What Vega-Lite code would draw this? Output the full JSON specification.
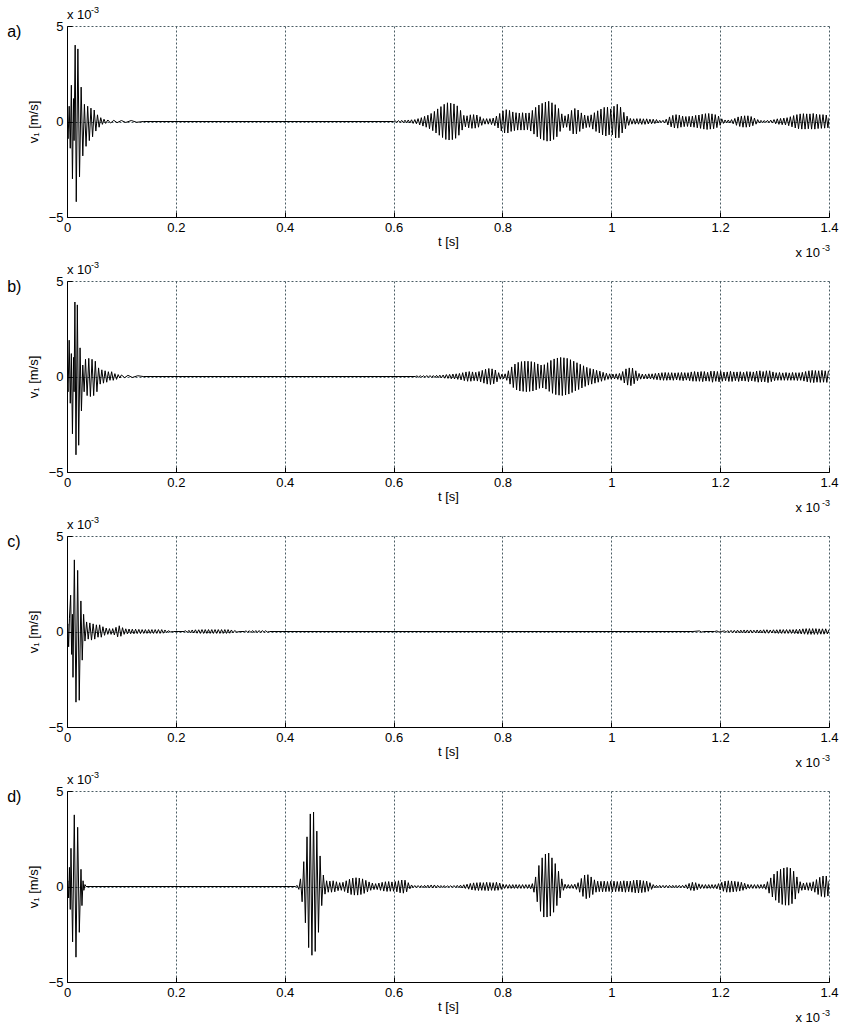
{
"$schema": "https://vega.github.io/schema/vega-lite/v6.json",
"padding": {"left": 7, "top": 6, "right": 6, "bottom": 4},
"bounds": "flush",
"spacing": 64,
"datasets": {
"a": [
{"t":0,"v":0},{"t":2,"v":-0.9},{"t":4,"v":0.8},{"t":6,"v":-1.4},{"t":8,"v":1.9},{"t":10,"v":-3.0},{"t":12,"v":1.2},{"t":13,"v":-1.0},{"t":15,"v":4.0},{"t":17,"v":-4.2},{"t":20,"v":3.8},{"t":23,"v":-2.9},{"t":26,"v":1.8},{"t":29,"v":-1.8},{"t":32,"v":0.9},{"t":35,"v":-1.3},{"t":38,"v":0.8},{"t":41,"v":-1.0},{"t":44,"v":0.7},{"t":47,"v":-0.8},{"t":50,"v":0.6},{"t":53,"v":-0.5},{"t":56,"v":0.35},{"t":59,"v":-0.3},{"t":62,"v":0.2},{"t":65,"v":-0.15},{"t":68,"v":0.12},{"t":71,"v":-0.1},{"t":75,"v":0.08},{"t":80,"v":-0.08},{"t":86,"v":0.06},{"t":92,"v":-0.06},{"t":100,"v":0.05},{"t":108,"v":-0.05},{"t":118,"v":0.05},{"t":128,"v":-0.04},{"t":140,"v":0},{"t":600,"v":0},
{"t":603,"v":0.03},{"t":606,"v":-0.04},{"t":609,"v":0.05},{"t":612,"v":-0.05},{"t":615,"v":0.06},{"t":618,"v":-0.06},{"t":621,"v":0.07},{"t":624,"v":-0.07},{"t":627,"v":0.08},{"t":630,"v":-0.08},{"t":633,"v":0.09},{"t":636,"v":-0.1},{"t":639,"v":0.1},{"t":642,"v":-0.12},{"t":645,"v":0.15},{"t":648,"v":-0.18},{"t":651,"v":0.2},{"t":654,"v":-0.24},{"t":657,"v":0.27},{"t":660,"v":-0.3},{"t":663,"v":0.33},{"t":666,"v":-0.38},{"t":669,"v":0.42},{"t":672,"v":-0.48},{"t":675,"v":0.53},{"t":678,"v":-0.6},{"t":681,"v":0.66},{"t":684,"v":-0.72},{"t":687,"v":0.78},{"t":690,"v":-0.84},{"t":693,"v":0.9},{"t":696,"v":-0.94},{"t":699,"v":0.98},{"t":702,"v":-0.97},{"t":705,"v":0.96},{"t":708,"v":-0.95},{"t":711,"v":0.92},{"t":714,"v":-0.88},{"t":717,"v":0.82},{"t":720,"v":-0.72},{"t":723,"v":0.58},{"t":726,"v":-0.45},{"t":729,"v":0.32},{"t":732,"v":-0.28},{"t":735,"v":0.3},{"t":738,"v":-0.33},{"t":741,"v":0.35},{"t":744,"v":-0.36},{"t":747,"v":0.36},{"t":750,"v":-0.35},{"t":753,"v":0.34},{"t":756,"v":-0.3},{"t":759,"v":0.25},{"t":762,"v":-0.2},{"t":765,"v":0.15},{"t":768,"v":-0.14},{"t":771,"v":0.15},{"t":774,"v":-0.14},{"t":777,"v":0.15},{"t":780,"v":-0.16},{"t":783,"v":0.18},{"t":786,"v":-0.22},{"t":789,"v":0.28},{"t":792,"v":-0.34},{"t":795,"v":0.42},{"t":798,"v":-0.5},{"t":801,"v":0.56},{"t":804,"v":-0.6},{"t":807,"v":0.62},{"t":810,"v":-0.6},{"t":813,"v":0.58},{"t":816,"v":-0.52},{"t":819,"v":0.5},{"t":822,"v":-0.48},{"t":825,"v":0.46},{"t":828,"v":-0.45},{"t":831,"v":0.44},{"t":834,"v":-0.45},{"t":837,"v":0.46},{"t":840,"v":-0.45},{"t":843,"v":0.44},{"t":846,"v":-0.43},{"t":849,"v":0.45},{"t":852,"v":-0.5},{"t":855,"v":0.58},{"t":858,"v":-0.66},{"t":861,"v":0.74},{"t":864,"v":-0.8},{"t":867,"v":0.86},{"t":870,"v":-0.9},{"t":873,"v":0.95},{"t":876,"v":-0.98},{"t":879,"v":1.02},{"t":882,"v":-1.03},{"t":885,"v":1.06},{"t":888,"v":-1.02},{"t":891,"v":0.98},{"t":894,"v":-0.94},{"t":897,"v":0.88},{"t":900,"v":-0.8},{"t":903,"v":0.68},{"t":906,"v":-0.52},{"t":909,"v":0.4},{"t":912,"v":-0.32},{"t":915,"v":0.3},{"t":918,"v":-0.3},{"t":921,"v":0.38},{"t":924,"v":-0.48},{"t":927,"v":0.58},{"t":930,"v":-0.65},{"t":933,"v":0.68},{"t":936,"v":-0.65},{"t":939,"v":0.6},{"t":942,"v":-0.52},{"t":945,"v":0.45},{"t":948,"v":-0.38},{"t":951,"v":0.34},{"t":954,"v":-0.32},{"t":957,"v":0.3},{"t":960,"v":-0.3},{"t":963,"v":0.35},{"t":966,"v":-0.4},{"t":969,"v":0.46},{"t":972,"v":-0.52},{"t":975,"v":0.56},{"t":978,"v":-0.6},{"t":981,"v":0.65},{"t":984,"v":-0.7},{"t":987,"v":0.74},{"t":990,"v":-0.76},{"t":993,"v":0.75},{"t":996,"v":-0.7},{"t":999,"v":0.66},{"t":1002,"v":-0.7},{"t":1005,"v":0.8},{"t":1008,"v":-0.86},{"t":1011,"v":0.9},{"t":1014,"v":-0.85},{"t":1017,"v":0.75},{"t":1020,"v":-0.6},{"t":1023,"v":0.48},{"t":1026,"v":-0.38},{"t":1029,"v":0.28},{"t":1032,"v":-0.2},{"t":1035,"v":0.16},{"t":1038,"v":-0.14},{"t":1041,"v":0.14},{"t":1044,"v":-0.14},{"t":1047,"v":0.15},{"t":1050,"v":-0.14},{"t":1053,"v":0.15},{"t":1056,"v":-0.15},{"t":1059,"v":0.14},{"t":1062,"v":-0.15},{"t":1065,"v":0.14},{"t":1068,"v":-0.13},{"t":1071,"v":0.12},{"t":1074,"v":-0.12},{"t":1077,"v":0.12},{"t":1080,"v":-0.11},{"t":1083,"v":0.1},{"t":1086,"v":-0.08},{"t":1089,"v":0.06},{"t":1092,"v":-0.05},{"t":1095,"v":0.06},{"t":1098,"v":-0.08},{"t":1101,"v":0.12},{"t":1104,"v":-0.18},{"t":1107,"v":0.24},{"t":1110,"v":-0.28},{"t":1113,"v":0.32},{"t":1116,"v":-0.34},{"t":1119,"v":0.36},{"t":1122,"v":-0.35},{"t":1125,"v":0.33},{"t":1128,"v":-0.3},{"t":1131,"v":0.28},{"t":1134,"v":-0.27},{"t":1137,"v":0.26},{"t":1140,"v":-0.26},{"t":1143,"v":0.27},{"t":1146,"v":-0.28},{"t":1149,"v":0.28},{"t":1152,"v":-0.3},{"t":1155,"v":0.32},{"t":1158,"v":-0.33},{"t":1161,"v":0.34},{"t":1164,"v":-0.36},{"t":1167,"v":0.38},{"t":1170,"v":-0.4},{"t":1173,"v":0.41},{"t":1176,"v":-0.42},{"t":1179,"v":0.42},{"t":1182,"v":-0.4},{"t":1185,"v":0.4},{"t":1188,"v":-0.38},{"t":1191,"v":0.36},{"t":1194,"v":-0.32},{"t":1197,"v":0.28},{"t":1200,"v":-0.2},{"t":1203,"v":0.14},{"t":1206,"v":-0.1},{"t":1209,"v":0.08},{"t":1212,"v":-0.07},{"t":1215,"v":0.08},{"t":1218,"v":-0.08},{"t":1221,"v":0.1},{"t":1224,"v":-0.12},{"t":1227,"v":0.16},{"t":1230,"v":-0.2},{"t":1233,"v":0.24},{"t":1236,"v":-0.26},{"t":1239,"v":0.28},{"t":1242,"v":-0.3},{"t":1245,"v":0.3},{"t":1248,"v":-0.3},{"t":1251,"v":0.3},{"t":1254,"v":-0.28},{"t":1257,"v":0.26},{"t":1260,"v":-0.22},{"t":1263,"v":0.18},{"t":1266,"v":-0.14},{"t":1269,"v":0.1},{"t":1272,"v":-0.08},{"t":1275,"v":0.06},{"t":1278,"v":-0.06},{"t":1281,"v":0.05},{"t":1284,"v":-0.05},{"t":1287,"v":0.06},{"t":1290,"v":-0.06},{"t":1293,"v":0.07},{"t":1296,"v":-0.08},{"t":1299,"v":0.1},{"t":1302,"v":-0.12},{"t":1305,"v":0.14},{"t":1308,"v":-0.15},{"t":1311,"v":0.16},{"t":1314,"v":-0.17},{"t":1317,"v":0.18},{"t":1320,"v":-0.18},{"t":1323,"v":0.2},{"t":1326,"v":-0.22},{"t":1329,"v":0.25},{"t":1332,"v":-0.28},{"t":1335,"v":0.31},{"t":1338,"v":-0.34},{"t":1341,"v":0.36},{"t":1344,"v":-0.38},{"t":1347,"v":0.4},{"t":1350,"v":-0.4},{"t":1353,"v":0.41},{"t":1356,"v":-0.4},{"t":1359,"v":0.4},{"t":1362,"v":-0.38},{"t":1365,"v":0.4},{"t":1368,"v":-0.4},{"t":1371,"v":0.42},{"t":1374,"v":-0.4},{"t":1377,"v":0.38},{"t":1380,"v":-0.37},{"t":1383,"v":0.36},{"t":1386,"v":-0.36},{"t":1389,"v":0.36},{"t":1392,"v":-0.35},{"t":1395,"v":0.34},{"t":1398,"v":-0.33},{"t":1400,"v":0.2}
],
"b": [
{"t":0,"v":0},{"t":2,"v":-0.8},{"t":4,"v":1.9},{"t":6,"v":-1.4},{"t":8,"v":1.2},{"t":10,"v":-3.0},{"t":12,"v":1.0},{"t":13,"v":-0.8},{"t":14.5,"v":3.9},{"t":16.5,"v":-4.1},{"t":19,"v":3.75},{"t":21.5,"v":-3.6},{"t":24,"v":1.5},{"t":26.5,"v":-1.8},{"t":29,"v":0.6},{"t":31.5,"v":-0.8},{"t":34,"v":0.9},{"t":37,"v":-1.0},{"t":40,"v":0.95},{"t":43,"v":-1.05},{"t":46,"v":0.9},{"t":49,"v":-1.0},{"t":52,"v":0.8},{"t":55,"v":-0.8},{"t":58,"v":0.45},{"t":61,"v":-0.4},{"t":64,"v":0.35},{"t":67,"v":-0.35},{"t":70,"v":0.3},{"t":73,"v":-0.3},{"t":76,"v":0.25},{"t":79,"v":-0.2},{"t":82,"v":0.25},{"t":85,"v":-0.2},{"t":88,"v":0.15},{"t":91,"v":-0.15},{"t":94,"v":0.1},{"t":97,"v":-0.08},{"t":100,"v":0.08},{"t":106,"v":-0.06},{"t":112,"v":0.06},{"t":120,"v":-0.05},{"t":130,"v":0.04},{"t":140,"v":0},{"t":640,"v":0},
{"t":643,"v":0.03},{"t":646,"v":-0.03},{"t":649,"v":0.04},{"t":652,"v":-0.03},{"t":655,"v":0.04},{"t":658,"v":-0.04},{"t":661,"v":0.05},{"t":664,"v":-0.04},{"t":667,"v":0.05},{"t":670,"v":-0.05},{"t":673,"v":0.05},{"t":676,"v":-0.05},{"t":679,"v":0.06},{"t":682,"v":-0.06},{"t":685,"v":0.07},{"t":688,"v":-0.07},{"t":691,"v":0.08},{"t":694,"v":-0.09},{"t":697,"v":0.1},{"t":700,"v":-0.1},{"t":703,"v":0.11},{"t":706,"v":-0.12},{"t":709,"v":0.13},{"t":712,"v":-0.13},{"t":715,"v":0.14},{"t":718,"v":-0.15},{"t":721,"v":0.16},{"t":724,"v":-0.18},{"t":727,"v":0.2},{"t":730,"v":-0.22},{"t":733,"v":0.24},{"t":736,"v":-0.25},{"t":739,"v":0.26},{"t":742,"v":-0.25},{"t":745,"v":0.24},{"t":748,"v":-0.22},{"t":751,"v":0.22},{"t":754,"v":-0.24},{"t":757,"v":0.26},{"t":760,"v":-0.28},{"t":763,"v":0.32},{"t":766,"v":-0.35},{"t":769,"v":0.38},{"t":772,"v":-0.4},{"t":775,"v":0.42},{"t":778,"v":-0.42},{"t":781,"v":0.4},{"t":784,"v":-0.38},{"t":787,"v":0.34},{"t":790,"v":-0.28},{"t":793,"v":0.2},{"t":796,"v":-0.14},{"t":799,"v":0.12},{"t":802,"v":-0.12},{"t":805,"v":0.14},{"t":808,"v":-0.2},{"t":811,"v":0.3},{"t":814,"v":-0.4},{"t":817,"v":0.5},{"t":820,"v":-0.58},{"t":823,"v":0.65},{"t":826,"v":-0.7},{"t":829,"v":0.74},{"t":832,"v":-0.76},{"t":835,"v":0.78},{"t":838,"v":-0.78},{"t":841,"v":0.8},{"t":844,"v":-0.8},{"t":847,"v":0.8},{"t":850,"v":-0.78},{"t":853,"v":0.78},{"t":856,"v":-0.76},{"t":859,"v":0.74},{"t":862,"v":-0.7},{"t":865,"v":0.66},{"t":868,"v":-0.62},{"t":871,"v":0.6},{"t":874,"v":-0.6},{"t":877,"v":0.62},{"t":880,"v":-0.66},{"t":883,"v":0.72},{"t":886,"v":-0.78},{"t":889,"v":0.84},{"t":892,"v":-0.88},{"t":895,"v":0.92},{"t":898,"v":-0.95},{"t":901,"v":0.97},{"t":904,"v":-0.98},{"t":907,"v":1.0},{"t":910,"v":-1.0},{"t":913,"v":0.98},{"t":916,"v":-0.97},{"t":919,"v":0.95},{"t":922,"v":-0.92},{"t":925,"v":0.88},{"t":928,"v":-0.84},{"t":931,"v":0.8},{"t":934,"v":-0.75},{"t":937,"v":0.72},{"t":940,"v":-0.68},{"t":943,"v":0.64},{"t":946,"v":-0.6},{"t":949,"v":0.56},{"t":952,"v":-0.52},{"t":955,"v":0.48},{"t":958,"v":-0.45},{"t":961,"v":0.42},{"t":964,"v":-0.4},{"t":967,"v":0.38},{"t":970,"v":-0.35},{"t":973,"v":0.32},{"t":976,"v":-0.3},{"t":979,"v":0.28},{"t":982,"v":-0.25},{"t":985,"v":0.22},{"t":988,"v":-0.2},{"t":991,"v":0.17},{"t":994,"v":-0.15},{"t":997,"v":0.14},{"t":1000,"v":-0.14},{"t":1003,"v":0.13},{"t":1006,"v":-0.13},{"t":1009,"v":0.14},{"t":1012,"v":-0.15},{"t":1015,"v":0.16},{"t":1018,"v":-0.2},{"t":1021,"v":0.26},{"t":1024,"v":-0.34},{"t":1027,"v":0.4},{"t":1030,"v":-0.45},{"t":1033,"v":0.45},{"t":1036,"v":-0.48},{"t":1039,"v":0.44},{"t":1042,"v":-0.38},{"t":1045,"v":0.3},{"t":1048,"v":-0.22},{"t":1051,"v":0.16},{"t":1054,"v":-0.14},{"t":1057,"v":0.13},{"t":1060,"v":-0.13},{"t":1063,"v":0.12},{"t":1066,"v":-0.13},{"t":1069,"v":0.14},{"t":1072,"v":-0.13},{"t":1075,"v":0.14},{"t":1078,"v":-0.15},{"t":1081,"v":0.16},{"t":1084,"v":-0.17},{"t":1087,"v":0.18},{"t":1090,"v":-0.19},{"t":1093,"v":0.2},{"t":1096,"v":-0.2},{"t":1099,"v":0.21},{"t":1102,"v":-0.2},{"t":1105,"v":0.2},{"t":1108,"v":-0.19},{"t":1111,"v":0.2},{"t":1114,"v":-0.2},{"t":1117,"v":0.19},{"t":1120,"v":-0.18},{"t":1123,"v":0.2},{"t":1126,"v":-0.2},{"t":1129,"v":0.21},{"t":1132,"v":-0.22},{"t":1135,"v":0.2},{"t":1138,"v":-0.19},{"t":1141,"v":0.2},{"t":1144,"v":-0.22},{"t":1147,"v":0.24},{"t":1150,"v":-0.25},{"t":1153,"v":0.26},{"t":1156,"v":-0.25},{"t":1159,"v":0.24},{"t":1162,"v":-0.25},{"t":1165,"v":0.26},{"t":1168,"v":-0.27},{"t":1171,"v":0.26},{"t":1174,"v":-0.24},{"t":1177,"v":0.22},{"t":1180,"v":-0.25},{"t":1183,"v":0.28},{"t":1186,"v":-0.3},{"t":1189,"v":0.28},{"t":1192,"v":-0.25},{"t":1195,"v":0.26},{"t":1198,"v":-0.28},{"t":1201,"v":0.27},{"t":1204,"v":-0.25},{"t":1207,"v":0.23},{"t":1210,"v":-0.22},{"t":1213,"v":0.24},{"t":1216,"v":-0.26},{"t":1219,"v":0.27},{"t":1222,"v":-0.26},{"t":1225,"v":0.24},{"t":1228,"v":-0.22},{"t":1231,"v":0.24},{"t":1234,"v":-0.26},{"t":1237,"v":0.25},{"t":1240,"v":-0.23},{"t":1243,"v":0.22},{"t":1246,"v":-0.24},{"t":1249,"v":0.26},{"t":1252,"v":-0.27},{"t":1255,"v":0.25},{"t":1258,"v":-0.23},{"t":1261,"v":0.24},{"t":1264,"v":-0.26},{"t":1267,"v":0.28},{"t":1270,"v":-0.3},{"t":1273,"v":0.3},{"t":1276,"v":-0.28},{"t":1279,"v":0.26},{"t":1282,"v":-0.28},{"t":1285,"v":0.3},{"t":1288,"v":-0.32},{"t":1291,"v":0.3},{"t":1294,"v":-0.27},{"t":1297,"v":0.24},{"t":1300,"v":-0.22},{"t":1303,"v":0.2},{"t":1306,"v":-0.2},{"t":1309,"v":0.21},{"t":1312,"v":-0.2},{"t":1315,"v":0.19},{"t":1318,"v":-0.2},{"t":1321,"v":0.21},{"t":1324,"v":-0.2},{"t":1327,"v":0.19},{"t":1330,"v":-0.2},{"t":1333,"v":0.21},{"t":1336,"v":-0.2},{"t":1339,"v":0.2},{"t":1342,"v":-0.21},{"t":1345,"v":0.2},{"t":1348,"v":-0.2},{"t":1351,"v":0.22},{"t":1354,"v":-0.24},{"t":1357,"v":0.26},{"t":1360,"v":-0.28},{"t":1363,"v":0.3},{"t":1366,"v":-0.31},{"t":1369,"v":0.32},{"t":1372,"v":-0.32},{"t":1375,"v":0.31},{"t":1378,"v":-0.3},{"t":1381,"v":0.3},{"t":1384,"v":-0.31},{"t":1387,"v":0.32},{"t":1390,"v":-0.3},{"t":1393,"v":0.3},{"t":1396,"v":-0.31},{"t":1399,"v":0.3}
],
"c": [
{"t":0,"v":0},{"t":1.5,"v":0.4},{"t":3,"v":-0.8},{"t":4.5,"v":0.7},{"t":6.7,"v":1.9},{"t":8.5,"v":-1.2},{"t":10,"v":0.9},{"t":11,"v":-2.4},{"t":13.5,"v":3.75},{"t":16.5,"v":-3.7},{"t":19.6,"v":3.2},{"t":22.5,"v":-3.6},{"t":25.5,"v":1.6},{"t":28,"v":-1.5},{"t":30.5,"v":0.9},{"t":33,"v":-0.5},{"t":36,"v":0.5},{"t":39,"v":-0.4},{"t":42,"v":0.45},{"t":45,"v":-0.45},{"t":48,"v":0.4},{"t":51,"v":-0.4},{"t":54,"v":0.35},{"t":57,"v":-0.3},{"t":60,"v":0.35},{"t":63,"v":-0.3},{"t":66,"v":0.25},{"t":69,"v":-0.2},{"t":72,"v":0.18},{"t":75,"v":-0.15},{"t":78,"v":0.15},{"t":81,"v":-0.15},{"t":84,"v":0.15},{"t":87,"v":-0.18},{"t":90,"v":0.22},{"t":93,"v":-0.28},{"t":96,"v":0.3},{"t":99,"v":-0.25},{"t":102,"v":0.2},{"t":105,"v":-0.15},{"t":108,"v":0.14},{"t":111,"v":-0.13},{"t":114,"v":0.13},{"t":117,"v":-0.12},{"t":120,"v":0.12},{"t":123,"v":-0.12},{"t":126,"v":0.12},{"t":129,"v":-0.11},{"t":132,"v":0.11},{"t":135,"v":-0.11},{"t":138,"v":0.1},{"t":141,"v":-0.1},{"t":144,"v":0.1},{"t":147,"v":-0.1},{"t":150,"v":0.1},{"t":153,"v":-0.1},{"t":156,"v":0.1},{"t":159,"v":-0.1},{"t":162,"v":0.1},{"t":165,"v":-0.1},{"t":168,"v":0.1},{"t":171,"v":-0.1},{"t":174,"v":0.1},{"t":177,"v":-0.09},{"t":180,"v":0.08},{"t":183,"v":-0.06},{"t":186,"v":0.04},{"t":190,"v":-0.02},{"t":196,"v":0},{"t":215,"v":0},{"t":218,"v":0.04},{"t":221,"v":-0.05},{"t":224,"v":0.06},{"t":227,"v":-0.07},{"t":230,"v":0.08},{"t":233,"v":-0.08},{"t":236,"v":0.09},{"t":239,"v":-0.09},{"t":242,"v":0.09},{"t":245,"v":-0.1},{"t":248,"v":0.1},{"t":251,"v":-0.1},{"t":254,"v":0.1},{"t":257,"v":-0.1},{"t":260,"v":0.1},{"t":263,"v":-0.1},{"t":266,"v":0.1},{"t":269,"v":-0.1},{"t":272,"v":0.1},{"t":275,"v":-0.1},{"t":278,"v":0.1},{"t":281,"v":-0.1},{"t":284,"v":0.1},{"t":287,"v":-0.1},{"t":290,"v":0.1},{"t":293,"v":-0.1},{"t":296,"v":0.1},{"t":299,"v":-0.09},{"t":302,"v":0.08},{"t":305,"v":-0.07},{"t":308,"v":0.05},{"t":312,"v":-0.03},{"t":318,"v":0},{"t":326,"v":0},{"t":329,"v":0.03},{"t":332,"v":-0.04},{"t":335,"v":0.04},{"t":338,"v":-0.05},{"t":341,"v":0.05},{"t":344,"v":-0.05},{"t":347,"v":0.05},{"t":350,"v":-0.05},{"t":353,"v":0.05},{"t":356,"v":-0.05},{"t":359,"v":0.05},{"t":362,"v":-0.04},{"t":365,"v":0.04},{"t":368,"v":-0.03},{"t":372,"v":0},{"t":1150,"v":0},{"t":1162,"v":0.03},{"t":1166,"v":-0.03},{"t":1170,"v":0},{"t":1190,"v":0},{"t":1194,"v":0.03},{"t":1198,"v":-0.03},{"t":1202,"v":0},{"t":1208,"v":0.03},{"t":1211,"v":-0.04},{"t":1214,"v":0.05},{"t":1217,"v":-0.05},{"t":1220,"v":0.06},{"t":1223,"v":-0.06},{"t":1226,"v":0.06},{"t":1229,"v":-0.07},{"t":1232,"v":0.07},{"t":1235,"v":-0.07},{"t":1238,"v":0.07},{"t":1241,"v":-0.07},{"t":1244,"v":0.08},{"t":1247,"v":-0.08},{"t":1250,"v":0.08},{"t":1253,"v":-0.08},{"t":1256,"v":0.08},{"t":1259,"v":-0.08},{"t":1262,"v":0.07},{"t":1265,"v":-0.07},{"t":1268,"v":0.08},{"t":1271,"v":-0.08},{"t":1274,"v":0.08},{"t":1277,"v":-0.08},{"t":1280,"v":0.09},{"t":1283,"v":-0.09},{"t":1286,"v":0.09},{"t":1289,"v":-0.09},{"t":1292,"v":0.08},{"t":1295,"v":-0.08},{"t":1298,"v":0.09},{"t":1301,"v":-0.09},{"t":1304,"v":0.09},{"t":1307,"v":-0.1},{"t":1310,"v":0.1},{"t":1313,"v":-0.1},{"t":1316,"v":0.1},{"t":1319,"v":-0.1},{"t":1322,"v":0.1},{"t":1325,"v":-0.1},{"t":1328,"v":0.1},{"t":1331,"v":-0.1},{"t":1334,"v":0.1},{"t":1337,"v":-0.11},{"t":1340,"v":0.11},{"t":1343,"v":-0.12},{"t":1346,"v":0.12},{"t":1349,"v":-0.13},{"t":1352,"v":0.14},{"t":1355,"v":-0.14},{"t":1358,"v":0.15},{"t":1361,"v":-0.15},{"t":1364,"v":0.15},{"t":1367,"v":-0.15},{"t":1370,"v":0.15},{"t":1373,"v":-0.15},{"t":1376,"v":0.15},{"t":1379,"v":-0.15},{"t":1382,"v":0.14},{"t":1385,"v":-0.14},{"t":1388,"v":0.14},{"t":1391,"v":-0.14},{"t":1394,"v":0.14},{"t":1397,"v":-0.13},{"t":1400,"v":0.1}
],
"d": [
{"t":0,"v":0},{"t":1.5,"v":0.3},{"t":3,"v":-0.6},{"t":4.5,"v":1.0},{"t":6,"v":-1.2},{"t":7.3,"v":2.0},{"t":10.3,"v":-2.9},{"t":13.4,"v":3.75},{"t":16.5,"v":-3.7},{"t":19.6,"v":3.1},{"t":22.6,"v":-2.4},{"t":25.7,"v":0.9},{"t":27.5,"v":-1.0},{"t":29.5,"v":0.3},{"t":31,"v":-0.2},{"t":33,"v":0.1},{"t":35,"v":0},{"t":420,"v":0},
{"t":423,"v":0.05},{"t":426,"v":-0.15},{"t":429,"v":0.4},{"t":432,"v":-0.8},{"t":435,"v":1.3},{"t":438,"v":-1.9},{"t":441,"v":2.6},{"t":444,"v":-3.2},{"t":447,"v":3.8},{"t":450,"v":-3.6},{"t":453,"v":3.9},{"t":456,"v":-3.4},{"t":459,"v":2.9},{"t":462,"v":-2.4},{"t":465,"v":1.6},{"t":468,"v":-1.0},{"t":471,"v":0.6},{"t":474,"v":-0.4},{"t":477,"v":0.3},{"t":480,"v":-0.3},{"t":483,"v":0.28},{"t":486,"v":-0.3},{"t":489,"v":0.3},{"t":492,"v":-0.28},{"t":495,"v":0.25},{"t":498,"v":-0.22},{"t":501,"v":0.2},{"t":504,"v":-0.2},{"t":507,"v":0.22},{"t":510,"v":-0.26},{"t":513,"v":0.3},{"t":516,"v":-0.34},{"t":519,"v":0.38},{"t":522,"v":-0.42},{"t":525,"v":0.44},{"t":528,"v":-0.45},{"t":531,"v":0.46},{"t":534,"v":-0.45},{"t":537,"v":0.44},{"t":540,"v":-0.42},{"t":543,"v":0.4},{"t":546,"v":-0.36},{"t":549,"v":0.32},{"t":552,"v":-0.28},{"t":555,"v":0.24},{"t":558,"v":-0.2},{"t":561,"v":0.18},{"t":564,"v":-0.16},{"t":567,"v":0.15},{"t":570,"v":-0.16},{"t":573,"v":0.18},{"t":576,"v":-0.2},{"t":579,"v":0.22},{"t":582,"v":-0.24},{"t":585,"v":0.25},{"t":588,"v":-0.26},{"t":591,"v":0.26},{"t":594,"v":-0.25},{"t":597,"v":0.24},{"t":600,"v":-0.25},{"t":603,"v":0.26},{"t":606,"v":-0.28},{"t":609,"v":0.3},{"t":612,"v":-0.33},{"t":615,"v":0.34},{"t":618,"v":-0.35},{"t":621,"v":0.33},{"t":624,"v":-0.28},{"t":627,"v":0.2},{"t":630,"v":-0.12},{"t":633,"v":0.08},{"t":636,"v":-0.06},{"t":639,"v":0.05},{"t":642,"v":-0.05},{"t":645,"v":0.05},{"t":648,"v":-0.05},{"t":651,"v":0.05},{"t":654,"v":-0.06},{"t":657,"v":0.06},{"t":660,"v":-0.06},{"t":663,"v":0.07},{"t":666,"v":-0.07},{"t":669,"v":0.08},{"t":672,"v":-0.08},{"t":675,"v":0.08},{"t":678,"v":-0.07},{"t":681,"v":0.06},{"t":684,"v":-0.05},{"t":687,"v":0.05},{"t":690,"v":-0.05},{"t":693,"v":0.05},{"t":696,"v":-0.05},{"t":699,"v":0.04},{"t":702,"v":-0.04},{"t":705,"v":0.04},{"t":708,"v":-0.04},{"t":711,"v":0.05},{"t":714,"v":-0.05},{"t":717,"v":0.06},{"t":720,"v":-0.06},{"t":723,"v":0.07},{"t":726,"v":-0.08},{"t":729,"v":0.09},{"t":732,"v":-0.1},{"t":735,"v":0.12},{"t":738,"v":-0.14},{"t":741,"v":0.16},{"t":744,"v":-0.18},{"t":747,"v":0.19},{"t":750,"v":-0.2},{"t":753,"v":0.2},{"t":756,"v":-0.21},{"t":759,"v":0.21},{"t":762,"v":-0.2},{"t":765,"v":0.2},{"t":768,"v":-0.21},{"t":771,"v":0.22},{"t":774,"v":-0.22},{"t":777,"v":0.21},{"t":780,"v":-0.2},{"t":783,"v":0.2},{"t":786,"v":-0.21},{"t":789,"v":0.22},{"t":792,"v":-0.2},{"t":795,"v":0.18},{"t":798,"v":-0.15},{"t":801,"v":0.12},{"t":804,"v":-0.1},{"t":807,"v":0.1},{"t":810,"v":-0.1},{"t":813,"v":0.1},{"t":816,"v":-0.1},{"t":819,"v":0.1},{"t":822,"v":-0.1},{"t":825,"v":0.1},{"t":828,"v":-0.1},{"t":831,"v":0.1},{"t":834,"v":-0.1},{"t":837,"v":0.1},{"t":840,"v":-0.1},{"t":843,"v":0.1},{"t":846,"v":-0.1},{"t":849,"v":0.1},{"t":852,"v":-0.12},{"t":855,"v":0.15},{"t":858,"v":-0.3},{"t":861,"v":0.5},{"t":864,"v":-0.8},{"t":867,"v":1.1},{"t":870,"v":-1.3},{"t":873,"v":1.5},{"t":876,"v":-1.6},{"t":879,"v":1.7},{"t":882,"v":-1.6},{"t":885,"v":1.75},{"t":888,"v":-1.55},{"t":891,"v":1.5},{"t":894,"v":-1.35},{"t":897,"v":1.2},{"t":900,"v":-1.0},{"t":903,"v":0.8},{"t":906,"v":-0.6},{"t":909,"v":0.4},{"t":912,"v":-0.2},{"t":915,"v":0.12},{"t":918,"v":-0.1},{"t":921,"v":0.1},{"t":924,"v":-0.1},{"t":927,"v":0.1},{"t":930,"v":-0.1},{"t":933,"v":0.12},{"t":936,"v":-0.15},{"t":939,"v":0.2},{"t":942,"v":-0.3},{"t":945,"v":0.42},{"t":948,"v":-0.52},{"t":951,"v":0.6},{"t":954,"v":-0.64},{"t":957,"v":0.62},{"t":960,"v":-0.58},{"t":963,"v":0.5},{"t":966,"v":-0.42},{"t":969,"v":0.35},{"t":972,"v":-0.3},{"t":975,"v":0.28},{"t":978,"v":-0.27},{"t":981,"v":0.27},{"t":984,"v":-0.28},{"t":987,"v":0.28},{"t":990,"v":-0.27},{"t":993,"v":0.26},{"t":996,"v":-0.26},{"t":999,"v":0.27},{"t":1002,"v":-0.28},{"t":1005,"v":0.28},{"t":1008,"v":-0.27},{"t":1011,"v":0.26},{"t":1014,"v":-0.26},{"t":1017,"v":0.27},{"t":1020,"v":-0.28},{"t":1023,"v":0.3},{"t":1026,"v":-0.3},{"t":1029,"v":0.28},{"t":1032,"v":-0.27},{"t":1035,"v":0.28},{"t":1038,"v":-0.3},{"t":1041,"v":0.32},{"t":1044,"v":-0.33},{"t":1047,"v":0.34},{"t":1050,"v":-0.34},{"t":1053,"v":0.33},{"t":1056,"v":-0.32},{"t":1059,"v":0.3},{"t":1062,"v":-0.3},{"t":1065,"v":0.28},{"t":1068,"v":-0.25},{"t":1071,"v":0.2},{"t":1074,"v":-0.15},{"t":1077,"v":0.1},{"t":1080,"v":-0.07},{"t":1083,"v":0.06},{"t":1086,"v":-0.06},{"t":1089,"v":0.06},{"t":1092,"v":-0.06},{"t":1095,"v":0.06},{"t":1098,"v":-0.06},{"t":1101,"v":0.06},{"t":1104,"v":-0.06},{"t":1107,"v":0.06},{"t":1110,"v":-0.06},{"t":1113,"v":0.06},{"t":1116,"v":-0.06},{"t":1119,"v":0.06},{"t":1122,"v":-0.06},{"t":1125,"v":0.06},{"t":1128,"v":-0.06},{"t":1131,"v":0.06},{"t":1134,"v":-0.07},{"t":1137,"v":0.09},{"t":1140,"v":-0.12},{"t":1143,"v":0.16},{"t":1146,"v":-0.2},{"t":1149,"v":0.22},{"t":1152,"v":-0.22},{"t":1155,"v":0.2},{"t":1158,"v":-0.17},{"t":1161,"v":0.14},{"t":1164,"v":-0.11},{"t":1167,"v":0.1},{"t":1170,"v":-0.1},{"t":1173,"v":0.1},{"t":1176,"v":-0.1},{"t":1179,"v":0.1},{"t":1182,"v":-0.1},{"t":1185,"v":0.1},{"t":1188,"v":-0.1},{"t":1191,"v":0.1},{"t":1194,"v":-0.12},{"t":1197,"v":0.15},{"t":1200,"v":-0.18},{"t":1203,"v":0.22},{"t":1206,"v":-0.25},{"t":1209,"v":0.28},{"t":1212,"v":-0.3},{"t":1215,"v":0.3},{"t":1218,"v":-0.3},{"t":1221,"v":0.29},{"t":1224,"v":-0.28},{"t":1227,"v":0.27},{"t":1230,"v":-0.26},{"t":1233,"v":0.25},{"t":1236,"v":-0.24},{"t":1239,"v":0.22},{"t":1242,"v":-0.2},{"t":1245,"v":0.17},{"t":1248,"v":-0.14},{"t":1251,"v":0.11},{"t":1254,"v":-0.1},{"t":1257,"v":0.1},{"t":1260,"v":-0.1},{"t":1263,"v":0.1},{"t":1266,"v":-0.1},{"t":1269,"v":0.1},{"t":1272,"v":-0.1},{"t":1275,"v":0.1},{"t":1278,"v":-0.1},{"t":1281,"v":0.12},{"t":1284,"v":-0.15},{"t":1287,"v":0.25},{"t":1290,"v":-0.35},{"t":1293,"v":0.45},{"t":1296,"v":-0.55},{"t":1299,"v":0.65},{"t":1302,"v":-0.72},{"t":1305,"v":0.8},{"t":1308,"v":-0.85},{"t":1311,"v":0.9},{"t":1314,"v":-0.94},{"t":1317,"v":0.97},{"t":1320,"v":-0.98},{"t":1323,"v":1.0},{"t":1326,"v":-0.98},{"t":1329,"v":0.96},{"t":1332,"v":-0.9},{"t":1335,"v":0.8},{"t":1338,"v":-0.66},{"t":1341,"v":0.5},{"t":1344,"v":-0.35},{"t":1347,"v":0.25},{"t":1350,"v":-0.2},{"t":1353,"v":0.18},{"t":1356,"v":-0.18},{"t":1359,"v":0.2},{"t":1362,"v":-0.2},{"t":1365,"v":0.2},{"t":1368,"v":-0.22},{"t":1371,"v":0.25},{"t":1374,"v":-0.3},{"t":1377,"v":0.36},{"t":1380,"v":-0.42},{"t":1383,"v":0.48},{"t":1386,"v":-0.52},{"t":1389,"v":0.55},{"t":1392,"v":-0.56},{"t":1395,"v":0.55},{"t":1398,"v":-0.5},{"t":1400,"v":0.3}
]
},
"vconcat": [
{"width": 762, "height": 191, "layer": [
 {"data": {"name": "a"}, "mark": {"type": "line", "color": "#000", "strokeWidth": 1, "clip": true},
  "encoding": {"x": {"field": "t", "type": "quantitative", "scale": {"domain": [0, 1400], "nice": false}, "axis": {"values": [0,200,400,600,800,1000,1200,1400], "labelExpr": "datum.value/1000", "title": "t [s]"}},
               "y": {"field": "v", "type": "quantitative", "scale": {"domain": [-5, 5], "nice": false}, "axis": {"values": [-5,0,5], "title": "v₁ [m/s]"}}}},
 {"data": {"values": [{}]}, "mark": {"type": "text", "text": "a)", "fontSize": 16, "align": "left", "baseline": "middle", "font": "Liberation Sans"}, "encoding": {"x": {"datum": -110}, "y": {"datum": 4.7}}},
 {"data": {"values": [{}]}, "mark": {"type": "text", "text": "x 10", "fontSize": 13, "align": "left", "baseline": "alphabetic", "dy": -7, "font": "Liberation Sans"}, "encoding": {"x": {"datum": 0}, "y": {"datum": 5}}},
 {"data": {"values": [{}]}, "mark": {"type": "text", "text": "-3", "fontSize": 9, "align": "left", "baseline": "alphabetic", "dx": 24, "dy": -13, "font": "Liberation Sans"}, "encoding": {"x": {"datum": 0}, "y": {"datum": 5}}},
 {"data": {"values": [{}]}, "mark": {"type": "text", "text": "x 10", "fontSize": 13, "align": "right", "baseline": "alphabetic", "dx": -9, "dy": 40, "font": "Liberation Sans"}, "encoding": {"x": {"datum": 1400}, "y": {"datum": -5}}},
 {"data": {"values": [{}]}, "mark": {"type": "text", "text": "-3", "fontSize": 9, "align": "right", "baseline": "alphabetic", "dx": 1, "dy": 34, "font": "Liberation Sans"}, "encoding": {"x": {"datum": 1400}, "y": {"datum": -5}}}
]},
{"width": 762, "height": 191, "layer": [
 {"data": {"name": "b"}, "mark": {"type": "line", "color": "#000", "strokeWidth": 1, "clip": true},
  "encoding": {"x": {"field": "t", "type": "quantitative", "scale": {"domain": [0, 1400], "nice": false}, "axis": {"values": [0,200,400,600,800,1000,1200,1400], "labelExpr": "datum.value/1000", "title": "t [s]"}},
               "y": {"field": "v", "type": "quantitative", "scale": {"domain": [-5, 5], "nice": false}, "axis": {"values": [-5,0,5], "title": "v₁ [m/s]"}}}},
 {"data": {"values": [{}]}, "mark": {"type": "text", "text": "b)", "fontSize": 16, "align": "left", "baseline": "middle", "font": "Liberation Sans"}, "encoding": {"x": {"datum": -110}, "y": {"datum": 4.7}}},
 {"data": {"values": [{}]}, "mark": {"type": "text", "text": "x 10", "fontSize": 13, "align": "left", "baseline": "alphabetic", "dy": -7, "font": "Liberation Sans"}, "encoding": {"x": {"datum": 0}, "y": {"datum": 5}}},
 {"data": {"values": [{}]}, "mark": {"type": "text", "text": "-3", "fontSize": 9, "align": "left", "baseline": "alphabetic", "dx": 24, "dy": -13, "font": "Liberation Sans"}, "encoding": {"x": {"datum": 0}, "y": {"datum": 5}}},
 {"data": {"values": [{}]}, "mark": {"type": "text", "text": "x 10", "fontSize": 13, "align": "right", "baseline": "alphabetic", "dx": -9, "dy": 40, "font": "Liberation Sans"}, "encoding": {"x": {"datum": 1400}, "y": {"datum": -5}}},
 {"data": {"values": [{}]}, "mark": {"type": "text", "text": "-3", "fontSize": 9, "align": "right", "baseline": "alphabetic", "dx": 1, "dy": 34, "font": "Liberation Sans"}, "encoding": {"x": {"datum": 1400}, "y": {"datum": -5}}}
]},
{"width": 762, "height": 191, "layer": [
 {"data": {"name": "c"}, "mark": {"type": "line", "color": "#000", "strokeWidth": 1, "clip": true},
  "encoding": {"x": {"field": "t", "type": "quantitative", "scale": {"domain": [0, 1400], "nice": false}, "axis": {"values": [0,200,400,600,800,1000,1200,1400], "labelExpr": "datum.value/1000", "title": "t [s]"}},
               "y": {"field": "v", "type": "quantitative", "scale": {"domain": [-5, 5], "nice": false}, "axis": {"values": [-5,0,5], "title": "v₁ [m/s]"}}}},
 {"data": {"values": [{}]}, "mark": {"type": "text", "text": "c)", "fontSize": 16, "align": "left", "baseline": "middle", "font": "Liberation Sans"}, "encoding": {"x": {"datum": -110}, "y": {"datum": 4.7}}},
 {"data": {"values": [{}]}, "mark": {"type": "text", "text": "x 10", "fontSize": 13, "align": "left", "baseline": "alphabetic", "dy": -7, "font": "Liberation Sans"}, "encoding": {"x": {"datum": 0}, "y": {"datum": 5}}},
 {"data": {"values": [{}]}, "mark": {"type": "text", "text": "-3", "fontSize": 9, "align": "left", "baseline": "alphabetic", "dx": 24, "dy": -13, "font": "Liberation Sans"}, "encoding": {"x": {"datum": 0}, "y": {"datum": 5}}},
 {"data": {"values": [{}]}, "mark": {"type": "text", "text": "x 10", "fontSize": 13, "align": "right", "baseline": "alphabetic", "dx": -9, "dy": 40, "font": "Liberation Sans"}, "encoding": {"x": {"datum": 1400}, "y": {"datum": -5}}},
 {"data": {"values": [{}]}, "mark": {"type": "text", "text": "-3", "fontSize": 9, "align": "right", "baseline": "alphabetic", "dx": 1, "dy": 34, "font": "Liberation Sans"}, "encoding": {"x": {"datum": 1400}, "y": {"datum": -5}}}
]},
{"width": 762, "height": 191, "layer": [
 {"data": {"name": "d"}, "mark": {"type": "line", "color": "#000", "strokeWidth": 1, "clip": true},
  "encoding": {"x": {"field": "t", "type": "quantitative", "scale": {"domain": [0, 1400], "nice": false}, "axis": {"values": [0,200,400,600,800,1000,1200,1400], "labelExpr": "datum.value/1000", "title": "t [s]"}},
               "y": {"field": "v", "type": "quantitative", "scale": {"domain": [-5, 5], "nice": false}, "axis": {"values": [-5,0,5], "title": "v₁ [m/s]"}}}},
 {"data": {"values": [{}]}, "mark": {"type": "text", "text": "d)", "fontSize": 16, "align": "left", "baseline": "middle", "font": "Liberation Sans"}, "encoding": {"x": {"datum": -110}, "y": {"datum": 4.7}}},
 {"data": {"values": [{}]}, "mark": {"type": "text", "text": "x 10", "fontSize": 13, "align": "left", "baseline": "alphabetic", "dy": -7, "font": "Liberation Sans"}, "encoding": {"x": {"datum": 0}, "y": {"datum": 5}}},
 {"data": {"values": [{}]}, "mark": {"type": "text", "text": "-3", "fontSize": 9, "align": "left", "baseline": "alphabetic", "dx": 24, "dy": -13, "font": "Liberation Sans"}, "encoding": {"x": {"datum": 0}, "y": {"datum": 5}}},
 {"data": {"values": [{}]}, "mark": {"type": "text", "text": "x 10", "fontSize": 13, "align": "right", "baseline": "alphabetic", "dx": -9, "dy": 40, "font": "Liberation Sans"}, "encoding": {"x": {"datum": 1400}, "y": {"datum": -5}}},
 {"data": {"values": [{}]}, "mark": {"type": "text", "text": "-3", "fontSize": 9, "align": "right", "baseline": "alphabetic", "dx": 1, "dy": 34, "font": "Liberation Sans"}, "encoding": {"x": {"datum": 1400}, "y": {"datum": -5}}}
]}
],
"config": {
 "view": {"stroke": null},
 "font": "Liberation Sans",
 "axis": {"labelFont": "Liberation Sans", "titleFont": "Liberation Sans", "labelFontSize": 13, "titleFontSize": 13, "titleFontWeight": "normal", "labelColor": "#000", "titleColor": "#000", "domainColor": "#000", "domainWidth": 1, "tickColor": "#000", "tickSize": -5, "labelPadding": 9, "grid": true, "gridColor": "#4a5d64", "gridDash": [2, 2], "gridWidth": 1, "labelFlush": false, "labelOverlap": false},
 "axisX": {"titlePadding": 1},
 "axisY": {"titlePadding": 8}
}
}
